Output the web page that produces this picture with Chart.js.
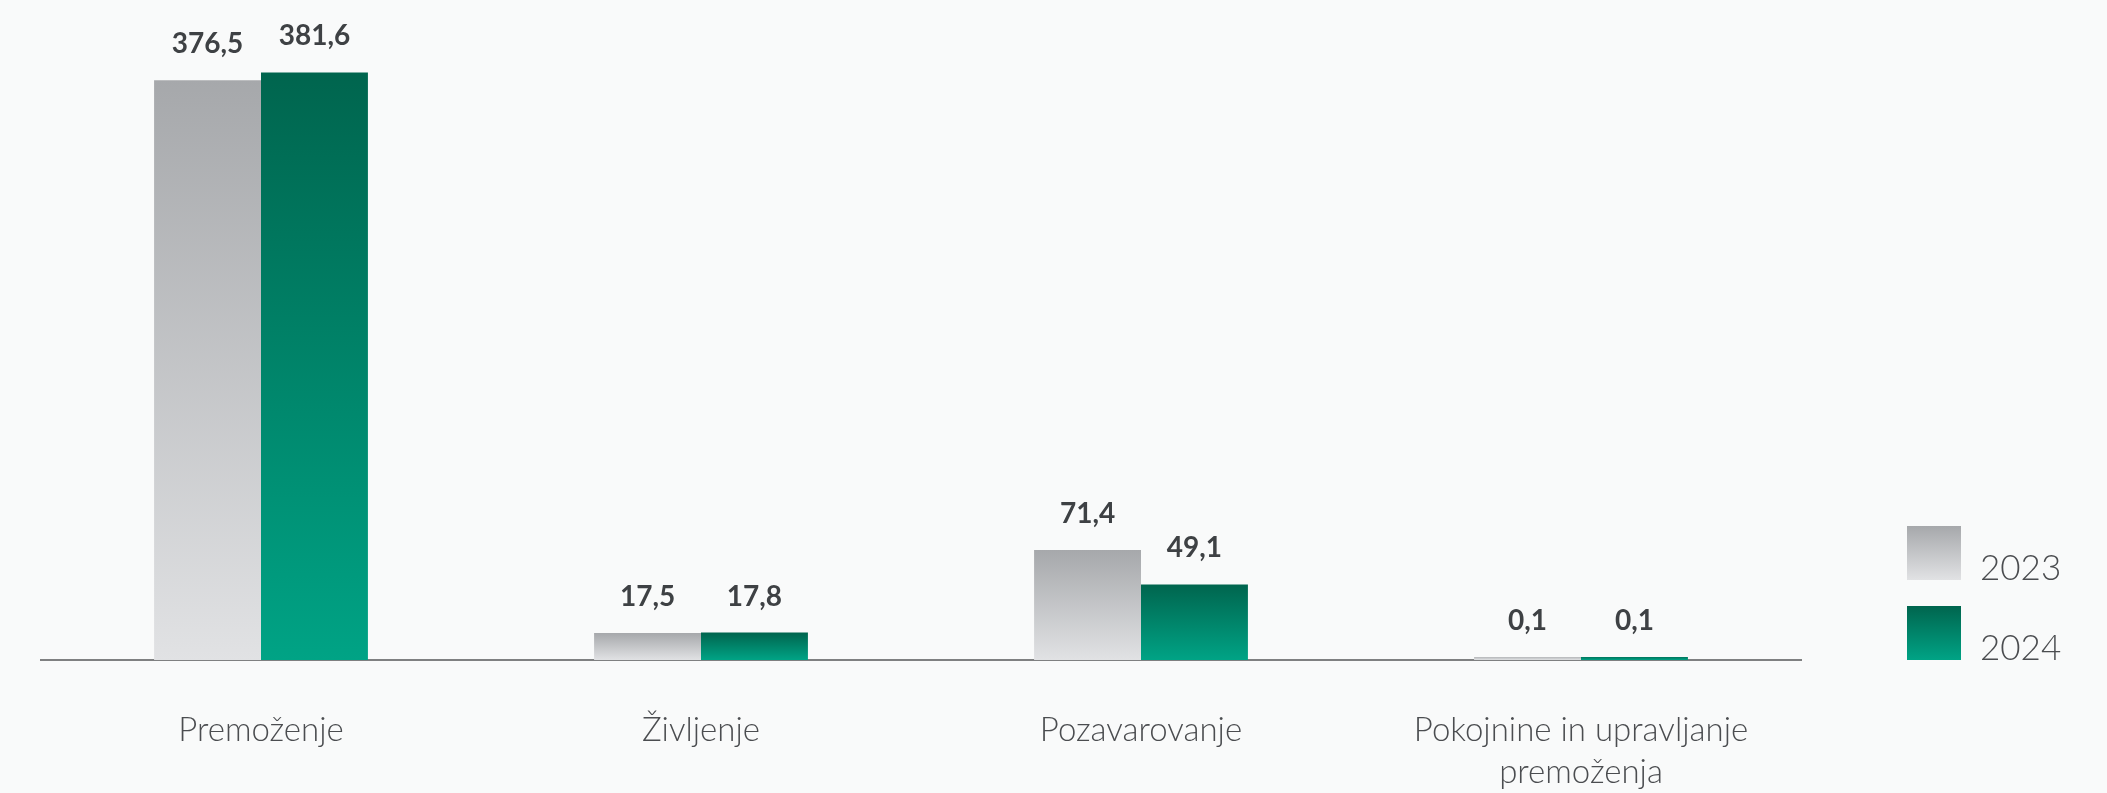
<!DOCTYPE html>
<html>
<head>
<meta charset="utf-8">
<script src="https://cdn.jsdelivr.net/npm/chart.js@4/dist/chart.umd.min.js"></script>
<style>
  html, body { margin: 0; padding: 0; background: #f9fafa; }
  #wrap { width: 2107px; height: 793px; position: relative; }
</style>
</head>
<body>
<div id="wrap"><canvas id="c"></canvas></div>
<script>
// data
var categories = ["Premoženje", "Življenje", "Pozavarovanje", ["Pokojnine in upravljanje", "premoženja"]];
var years = ["2023", "2024"];
var values2023 = [376.5, 17.5, 71.4, 0.1];
var values2024 = [381.6, 17.8, 49.1, 0.1];

var grayStops = ["#a6a8ab", "#e1e2e4"];
var greenStops = ["#00654e", "#00a385"];

function barGradient(stops) {
    return function (ctx) {
        var chart = ctx.chart;
        var area = chart.chartArea;
        if (!area || ctx.type !== "data") return stops[0];
        var y = chart.scales.y;
        var top = y.getPixelForValue(ctx.raw);
        var base = y.getPixelForValue(0);
        if (base - top < 4) top = base - 4;
        var g = chart.ctx.createLinearGradient(0, top, 0, base);
        g.addColorStop(0, stops[0]);
        g.addColorStop(1, stops[1]);
        return g;
    };
}

function fmt(v) {
    return v.toFixed(1).replace(".", ",");
}

// value labels above the bars
var valueLabels = {
    id: "valueLabels",
    afterDatasetsDraw: function (chart) {
        var c = chart.ctx;
        c.save();
        c.font = "bold 28px Lato";
        c.fillStyle = "#3e4144";
        c.textAlign = "center";
        c.textBaseline = "alphabetic";
        chart.data.datasets.forEach(function (ds, i) {
            chart.getDatasetMeta(i).data.forEach(function (bar, j) {
                c.fillText(fmt(ds.data[j]), bar.x, bar.y - 27);
            });
        });
        c.restore();
    }
};

// legend at the right, text sits on the bottom edge of the swatch
var sideLegend = {
    id: "sideLegend",
    afterDraw: function (chart) {
        var c = chart.ctx;
        var x = 1907, y0 = 526, box = 54, step = 80;
        c.save();
        c.font = "300 35px Lato";
        c.textAlign = "left";
        c.textBaseline = "alphabetic";
        [grayStops, greenStops].forEach(function (stops, i) {
            var y = y0 + i * step;
            var g = c.createLinearGradient(0, y, 0, y + box);
            g.addColorStop(0, stops[0]);
            g.addColorStop(1, stops[1]);
            c.fillStyle = g;
            c.fillRect(x, y, box, box);
            c.fillStyle = "#4b4d50";
            c.fillText(years[i], x + 73, y + box);
        });
        c.restore();
    }
};

new Chart(document.getElementById("c"), {
    type: "bar",
    data: {
        labels: categories,
        datasets: [
            { label: years[0], data: values2023, backgroundColor: barGradient(grayStops), minBarLength: 3 },
            { label: years[1], data: values2024, backgroundColor: barGradient(greenStops), minBarLength: 3 }
        ]
    },
    options: {
        responsive: true,
        maintainAspectRatio: false,
        animation: false,
        layout: { padding: { left: 41, right: 306, top: 0, bottom: 0 } },
        datasets: { bar: { categoryPercentage: 0.486, barPercentage: 1.0 } },
        plugins: { legend: { display: false }, tooltip: { enabled: false } },
        scales: {
            x: {
                afterFit: function (scale) { scale.height = 133; },
                grid: { display: false, drawTicks: false },
                border: { display: true, color: "#7f8081", width: 2 },
                ticks: {
                    padding: 49,
                    color: "#4b4d50",
                    font: { family: "Lato", weight: "300", size: 33, lineHeight: 1.27 }
                }
            },
            y: {
                display: false,
                min: 0,
                max: 428.6
            }
        }
    },
    plugins: [valueLabels, sideLegend]
});
</script>
</body>
</html>
